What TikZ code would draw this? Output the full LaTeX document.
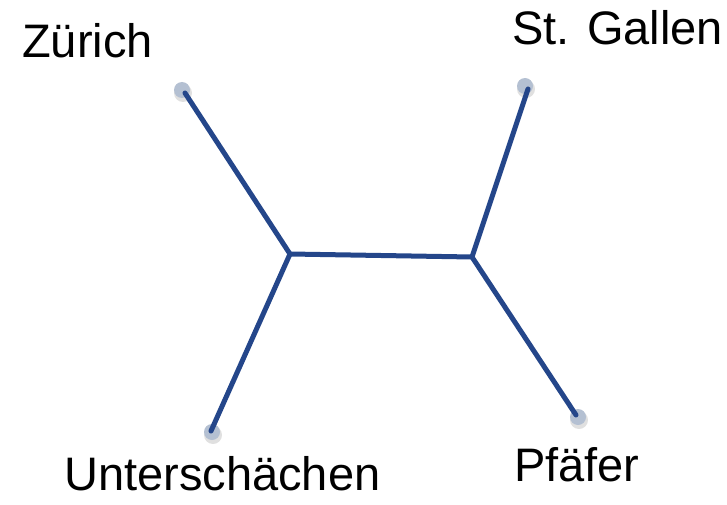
\documentclass[tikz,border=0pt]{standalone}
\usepackage{fontspec}
\setmainfont{Liberation Sans}
\definecolor{edgeblue}{RGB}{36,70,138}
\definecolor{dotgray}{RGB}{180,192,210}
\begin{document}
\begin{tikzpicture}[x=1pt,y=-1pt,
  edge/.style={draw=edgeblue,line width=5pt,line cap=round,line join=miter},
  leaf/.style={circle,fill=dotgray,minimum size=16pt,inner sep=0pt},
  shade/.style={circle,fill=black,opacity=0.12,minimum size=18pt,inner sep=0pt},
  lbl/.style={anchor=base west,inner sep=0pt,font=\fontsize{47}{50}\selectfont}]
\useasboundingbox (0,0) rectangle (727,505);
% shadows
\node[shade] (zs) at (183,93) {};
\node[shade] (gs) at (526,89) {};
\node[shade] (us) at (213,435) {};
\node[shade] (ps) at (579,420) {};
% leaves
\node[leaf] (zd) at (182,90) {};
\node[leaf] (gd) at (525,86) {};
\node[leaf] (ud) at (212,432) {};
\node[leaf] (pd) at (578,417) {};
% inner nodes
\coordinate (jl) at (290,254);
\coordinate (jr) at (472,257);
% edges
\draw[edge] ([shift={(3,3)}]zd.center) -- (jl) -- ([shift={(-1,-1)}]ud.center);
\draw[edge] ([shift={(3,3)}]gd.center) -- (jr) -- ([shift={(-2,-2)}]pd.center);
\draw[edge] (jl) -- (jr);
% labels
\node[lbl] (zl) at (22,58) {Zürich};
\node[lbl] (gl) at (512,45) {St. Gallen};
\node[lbl] (ul) at (64,490) {Unterschächen};
\node[lbl] (pl) at (514,481) {Pfäfer};
\end{tikzpicture}
\end{document}
